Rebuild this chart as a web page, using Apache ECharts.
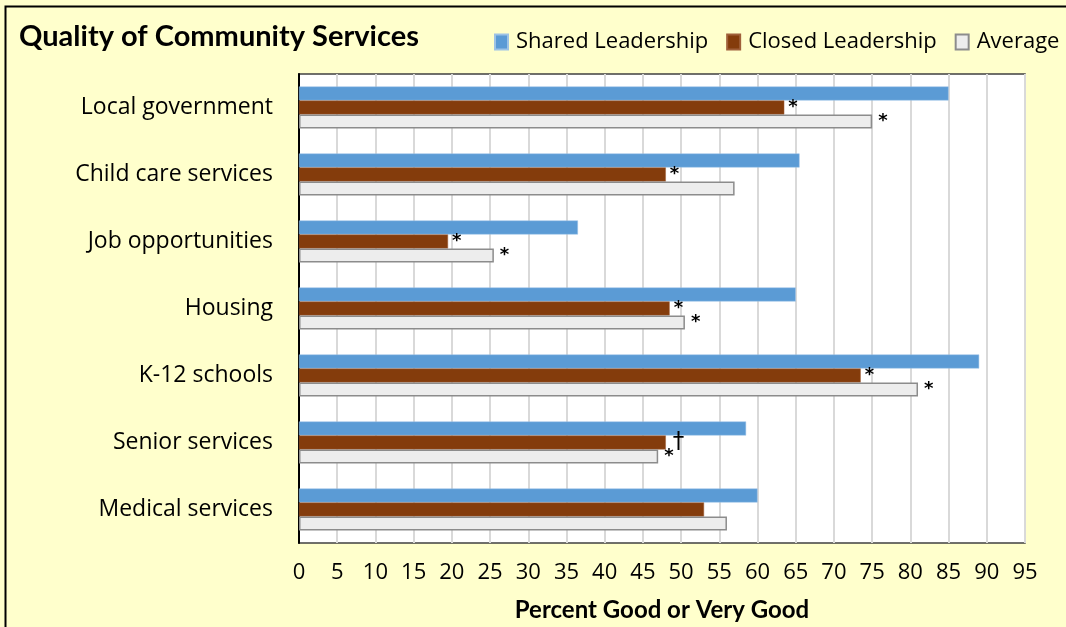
<!DOCTYPE html>
<html>
<head>
<meta charset="utf-8">
<script src="https://cdn.jsdelivr.net/npm/echarts@6/dist/echarts.min.js"></script>
<style>
  html, body { margin: 0; padding: 0; background: #ffffcc; }
  #main { width: 1066px; height: 627px; }
</style>
</head>
<body>
<div id="main"></div>
<script type="text/javascript">
	// data, top to bottom
	var categories = ['Local government', 'Child care services', 'Job opportunities', 'Housing', 'K-12 schools', 'Senior services', 'Medical services'];
	var sharedValues = [85, 65.5, 36.5, 65, 89, 58.5, 60];
	var closedValues = [63.5, 48, 19.5, 48.5, 73.5, 48, 53];
	var averageValues = [75, 57, 25.5, 50.5, 81, 47, 56];
	// significance marks next to the bars
	var closedMarks = ['*', '*', '*', '*', '*', '\u2020', ''];
	var averageMarks = ['*', '', '*', '*', '*', '*', ''];
	var xTicks = [0, 95, 5];

	var TEXT_FONT = 'Open Sans';
	var BOLD_FONT = 'Lato';

	function withMarks(values, marks) {
		return values.map(function (v, i) {
			var lbl = { show: marks[i] !== '', formatter: marks[i] };
			if (marks[i] === '\u2020') {
				// dagger is thinner and a bit taller than the asterisks
				lbl.fontWeight = 'normal';
				lbl.fontSize = 23;
				lbl.distance = 7;
			}
			return { value: v, label: lbl };
		});
	}

	var markLabel = {
		position: 'right',
		distance: 4,
		color: '#000',
		fontFamily: 'DejaVu Sans',
		fontSize: 18,
		fontWeight: 'bold'
	};

	var chart = echarts.init(document.getElementById('main'));
	var option = {
		backgroundColor: '#ffffcc',
		animation: false,
		title: {
			text: 'Quality of Community Services',
			left: 14,
			top: 17,
			textStyle: { fontFamily: BOLD_FONT, fontWeight: 'bold', fontSize: 29, color: '#000' }
		},
		legend: {
			left: 494,
			right: -60,
			top: 31,
			padding: 0,
			itemWidth: 13,
			itemHeight: 15,
			itemGap: 18,
			icon: 'rect',
			textStyle: { fontFamily: TEXT_FONT, fontSize: 22, color: '#000', padding: [0, 0, 0, 3] },
			data: ['Shared Leadership', 'Closed Leadership', 'Average']
		},
		grid: {
			left: 299,
			right: 41,
			top: 74,
			bottom: 78,
			show: true,
			backgroundColor: '#ffffff',
			borderColor: '#404040',
			borderWidth: 1.5
		},
		xAxis: {
			type: 'value',
			min: xTicks[0],
			max: xTicks[1],
			interval: xTicks[2],
			name: 'Percent Good or Very Good',
			nameLocation: 'middle',
			nameGap: 55,
			nameTextStyle: { fontFamily: BOLD_FONT, fontWeight: 'bold', fontSize: 24, color: '#000' },
			axisLine: { show: false },
			axisTick: { show: false },
			axisLabel: { margin: 19, fontFamily: TEXT_FONT, fontSize: 22, color: '#000' },
			splitLine: { show: true, lineStyle: { color: '#d9d9d9', width: 2 } }
		},
		yAxis: {
			type: 'category',
			inverse: true,
			data: categories,
			axisLine: { show: true, lineStyle: { color: '#000', width: 2 } },
			axisTick: { show: false },
			axisLabel: { margin: 26, fontFamily: TEXT_FONT, fontSize: 23, color: '#000' }
		},
		series: [
			{
				name: 'Shared Leadership',
				type: 'bar',
				data: sharedValues,
				barWidth: 14,
				barGap: '0%',
				itemStyle: { color: '#5b9bd5', borderColor: '#9dc3e6', borderWidth: 0.5 }
			},
			{
				name: 'Closed Leadership',
				type: 'bar',
				data: withMarks(closedValues, closedMarks),
				barWidth: 14,
				barGap: '0%',
				itemStyle: { color: '#843c0c', borderColor: '#a0603a', borderWidth: 0.5 },
				label: markLabel
			},
			{
				name: 'Average',
				type: 'bar',
				data: withMarks(averageValues, averageMarks),
				barWidth: 14,
				barGap: '0%',
				itemStyle: { color: '#ededed', borderColor: '#8c8c8c', borderWidth: 1.5 },
				label: Object.assign({}, markLabel, { distance: 6 })
			}
		],
		graphic: [{
			type: 'rect',
			left: 3,
			top: 4,
			shape: { width: 1200, height: 800 },
			style: { fill: 'none', stroke: '#000', lineWidth: 2 },
			silent: true
		}]
	};
	chart.setOption(option);
</script>
</body>
</html>
